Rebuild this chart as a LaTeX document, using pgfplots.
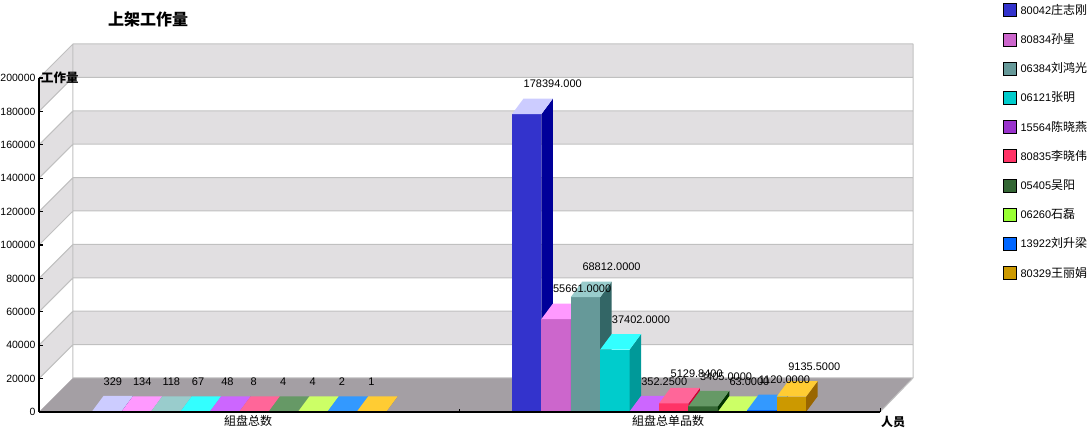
\documentclass[border=0pt]{standalone}
\usepackage{pgfplots}
\pgfplotsset{compat=1.18}
\usepackage{fontspec}
\setmainfont{Liberation Sans}
\newfontfamily\cjk{Noto Sans CJK SC}
\newcommand\cj[1]{{\cjk\fontsize{12}{14}\selectfont #1}}
\definecolor{wallg}{HTML}{E1DFE1}
\definecolor{wallline}{HTML}{C0C0C0}
\definecolor{floorc}{HTML}{A49FA4}
\definecolor{f1}{HTML}{3333CC}\definecolor{t1}{HTML}{CCCCFF}\definecolor{s1}{HTML}{000099}
\definecolor{f2}{HTML}{CC66CC}\definecolor{t2}{HTML}{FF99FF}\definecolor{s2}{HTML}{993399}
\definecolor{f3}{HTML}{669999}\definecolor{t3}{HTML}{99CCCC}\definecolor{s3}{HTML}{336666}
\definecolor{f4}{HTML}{00CCCC}\definecolor{t4}{HTML}{33FFFF}\definecolor{s4}{HTML}{009999}
\definecolor{f5}{HTML}{9933CC}\definecolor{t5}{HTML}{CC66FF}\definecolor{s5}{HTML}{660099}
\definecolor{f6}{HTML}{FF3366}\definecolor{t6}{HTML}{FF6699}\definecolor{s6}{HTML}{CC0033}
\definecolor{f7}{HTML}{336633}\definecolor{t7}{HTML}{669966}\definecolor{s7}{HTML}{003300}
\definecolor{f8}{HTML}{99FF33}\definecolor{t8}{HTML}{CCFF66}\definecolor{s8}{HTML}{66CC00}
\definecolor{f9}{HTML}{0066FF}\definecolor{t9}{HTML}{3399FF}\definecolor{s9}{HTML}{0033CC}
\definecolor{f10}{HTML}{CC9900}\definecolor{t10}{HTML}{FFCC33}\definecolor{s10}{HTML}{996600}
\tikzset{vlab/.style={font=\fontsize{11}{12}\selectfont, anchor=west, inner sep=0pt}}
\gdef\alllabels{}
% 3D bar: #1 left x (px), #2 value, #3 series index (colours), #4 label
\newcommand\tdbar[4]{%
 \begingroup
 \pgfkeys{/pgf/fpu=true,/pgf/fpu/output format=fixed}%
 \pgfmathparse{#1}\xdef\Xa{\pgfmathresult}%
 \pgfmathparse{#1+29.4}\xdef\Xb{\pgfmathresult}%
 \pgfmathparse{#1+40.9}\xdef\Xc{\pgfmathresult}%
 \pgfmathparse{#1+11.5}\xdef\Xd{\pgfmathresult}%
 \pgfmathparse{#2}\xdef\Yv{\pgfmathresult}%
 \pgfmathparse{#2+9281}\xdef\Yt{\pgfmathresult}%
 \pgfmathparse{#2+17964}\xdef\Yl{\pgfmathresult}%
 \endgroup
 \edef\doit{%
  \noexpand\addplot[fill=f#3,draw=none,forget plot] coordinates {(\Xa,0) (\Xb,0) (\Xb,\Yv) (\Xa,\Yv)} -- cycle;
  \noexpand\addplot[fill=s#3,draw=none,forget plot] coordinates {(\Xb,0) (\Xc,9281) (\Xc,\Yt) (\Xb,\Yv)} -- cycle;
  \noexpand\addplot[fill=t#3,draw=none,forget plot] coordinates {(\Xa,\Yv) (\Xb,\Yv) (\Xc,\Yt) (\Xd,\Yt)} -- cycle;
 }\doit
 \xdef\alllabels{\unexpanded\expandafter{\alllabels}\noexpand\node[vlab] at (axis cs:\Xd,\Yl) {#4};}%
}
\begin{document}
\begin{tikzpicture}[x=1pt,y=1pt]
\useasboundingbox (0,0) rectangle (1090,434);
\begin{axis}[
 at={(39pt,22pt)}, anchor=south west,
 scale only axis, width=874pt, height=368pt,
 xmin=39, xmax=913, ymin=0, ymax=220360,
 clip=false, axis on top,
 axis x line*=bottom, axis y line*=left,
 axis line style={draw=none},
 ytick={0,20000,40000,60000,80000,100000,120000,140000,160000,180000,200000},
 scaled y ticks=false,
 /pgf/number format/assume math mode=true,
 yticklabel style={/pgf/number format/fixed, /pgf/number format/1000 sep={}, font=\fontsize{10.5}{12}\selectfont},
 tick align=inside, major tick length=4pt,
 ytick style={black, line width=1.2pt},
 xtick={248,668},
 xticklabels={{\cjk 組盘总数},{\cjk 組盘总单品数}},
 xtick style={draw=none},
 xticklabel style={font=\fontsize{12}{14}\selectfont},
 legend image code/.code={\fill[#1] (0pt,-6.5pt) rectangle (13pt,6.5pt);},
 legend style={at={(axis description cs:1.1030,1.111)}, anchor=north west, draw=none, fill=none,
   font=\fontsize{11}{12}\selectfont, row sep=15.8pt, inner sep=0pt, column sep=4pt,
   nodes={inner sep=0pt}},
 legend cell align=left,
]
% back wall bands
\fill[wallg] (axis cs:73,40360) rectangle (axis cs:913,60360);
\fill[wallg] (axis cs:73,80360) rectangle (axis cs:913,100360);
\fill[wallg] (axis cs:73,120360) rectangle (axis cs:913,140360);
\fill[wallg] (axis cs:73,160360) rectangle (axis cs:913,180360);
\fill[wallg] (axis cs:73,200360) rectangle (axis cs:913,220360);
% side wall bands
\fill[wallg] (axis cs:39,20000) -- (axis cs:73,40360) -- (axis cs:73,60360) -- (axis cs:39,40000) -- cycle;
\fill[wallg] (axis cs:39,60000) -- (axis cs:73,80360) -- (axis cs:73,100360) -- (axis cs:39,80000) -- cycle;
\fill[wallg] (axis cs:39,100000) -- (axis cs:73,120360) -- (axis cs:73,140360) -- (axis cs:39,120000) -- cycle;
\fill[wallg] (axis cs:39,140000) -- (axis cs:73,160360) -- (axis cs:73,180360) -- (axis cs:39,160000) -- cycle;
\fill[wallg] (axis cs:39,180000) -- (axis cs:73,200360) -- (axis cs:73,220360) -- (axis cs:39,200000) -- cycle;
% wall lines
\draw[wallline, line width=1pt]
 (axis cs:73,40360) -- (axis cs:913,40360) (axis cs:73,60360) -- (axis cs:913,60360)
 (axis cs:73,80360) -- (axis cs:913,80360) (axis cs:73,100360) -- (axis cs:913,100360)
 (axis cs:73,120360) -- (axis cs:913,120360) (axis cs:73,140360) -- (axis cs:913,140360)
 (axis cs:73,160360) -- (axis cs:913,160360) (axis cs:73,180360) -- (axis cs:913,180360)
 (axis cs:73,200360) -- (axis cs:913,200360) (axis cs:73,220360) -- (axis cs:913,220360)
 (axis cs:39,20000) -- (axis cs:73,40360) (axis cs:39,40000) -- (axis cs:73,60360)
 (axis cs:39,60000) -- (axis cs:73,80360) (axis cs:39,80000) -- (axis cs:73,100360)
 (axis cs:39,100000) -- (axis cs:73,120360) (axis cs:39,120000) -- (axis cs:73,140360)
 (axis cs:39,140000) -- (axis cs:73,160360) (axis cs:39,160000) -- (axis cs:73,180360)
 (axis cs:39,180000) -- (axis cs:73,200360) (axis cs:39,200000) -- (axis cs:73,220360)
 (axis cs:73,20360) -- (axis cs:73,220360) (axis cs:913,20360) -- (axis cs:913,220360);
% floor
\fill[floorc] (axis cs:39,0) -- (axis cs:880,0) -- (axis cs:913,20360) -- (axis cs:73,20360) -- cycle;
\draw[wallline, line width=1pt] (axis cs:73,20360) -- (axis cs:913,20360) (axis cs:880,0) -- (axis cs:913,20360);
% group 1: 組盘总数
\tdbar{92.0}{329}{1}{329}
\tdbar{121.4}{134}{2}{134}
\tdbar{150.8}{118}{3}{118}
\tdbar{180.2}{67}{4}{67}
\tdbar{209.6}{48}{5}{48}
\tdbar{239.0}{8}{6}{8}
\tdbar{268.4}{4}{7}{4}
\tdbar{297.8}{4}{8}{4}
\tdbar{327.2}{2}{9}{2}
\tdbar{356.6}{1}{10}{1}
% group 2: 組盘总单品数
\tdbar{512.0}{178394}{1}{178394.000}
\tdbar{541.4}{55661}{2}{55661.0000}
\tdbar{570.8}{68812}{3}{68812.0000}
\tdbar{600.2}{37402}{4}{37402.0000}
\tdbar{629.6}{352.25}{5}{352.2500}
\tdbar{659.0}{5129.84}{6}{5129.8400}
\tdbar{688.4}{3405}{7}{3405.0000}
\tdbar{717.8}{63}{8}{63.0000}
\tdbar{747.2}{1120}{9}{1120.0000}
\tdbar{776.6}{9135.5}{10}{9135.5000}
% value labels on top of all bars
\alllabels
% axis lines
\draw[black, line width=2pt] (axis cs:39,0) -- (axis cs:880,0);
\draw[black, line width=2pt] (axis cs:39,0) -- (axis cs:39,200000);
\draw[black, line width=1pt] (axis cs:459,0) -- ([yshift=3pt]axis cs:459,0) (axis cs:880,0) -- ([yshift=4pt]axis cs:880,0);
% legend
\addlegendimage{fill=f1}\addlegendentry{80042\cj{庄志刚}}
\addlegendimage{fill=f2}\addlegendentry{80834\cj{孙星}}
\addlegendimage{fill=f3}\addlegendentry{06384\cj{刘鸿光}}
\addlegendimage{fill=f4}\addlegendentry{06121\cj{张明}}
\addlegendimage{fill=f5}\addlegendentry{15564\cj{陈晓燕}}
\addlegendimage{fill=f6}\addlegendentry{80835\cj{李晓伟}}
\addlegendimage{fill=f7}\addlegendentry{05405\cj{吴阳}}
\addlegendimage{fill=f8}\addlegendentry{06260\cj{石磊}}
\addlegendimage{fill=f9}\addlegendentry{13922\cj{刘升梁}}
\addlegendimage{fill=f10}\addlegendentry{80329\cj{王丽娟}}
\end{axis}
\node[font=\cjk\bfseries\fontsize{16}{18}\selectfont, inner sep=0pt] at (148,415) {上架工作量};
\node[font=\cjk\bfseries\fontsize{12.5}{14}\selectfont, inner sep=0pt, anchor=west] at (41,356) {工作量};
\node[font=\cjk\bfseries\fontsize{12}{14}\selectfont, inner sep=0pt] at (893,12) {人员};
\end{tikzpicture}
\end{document}
